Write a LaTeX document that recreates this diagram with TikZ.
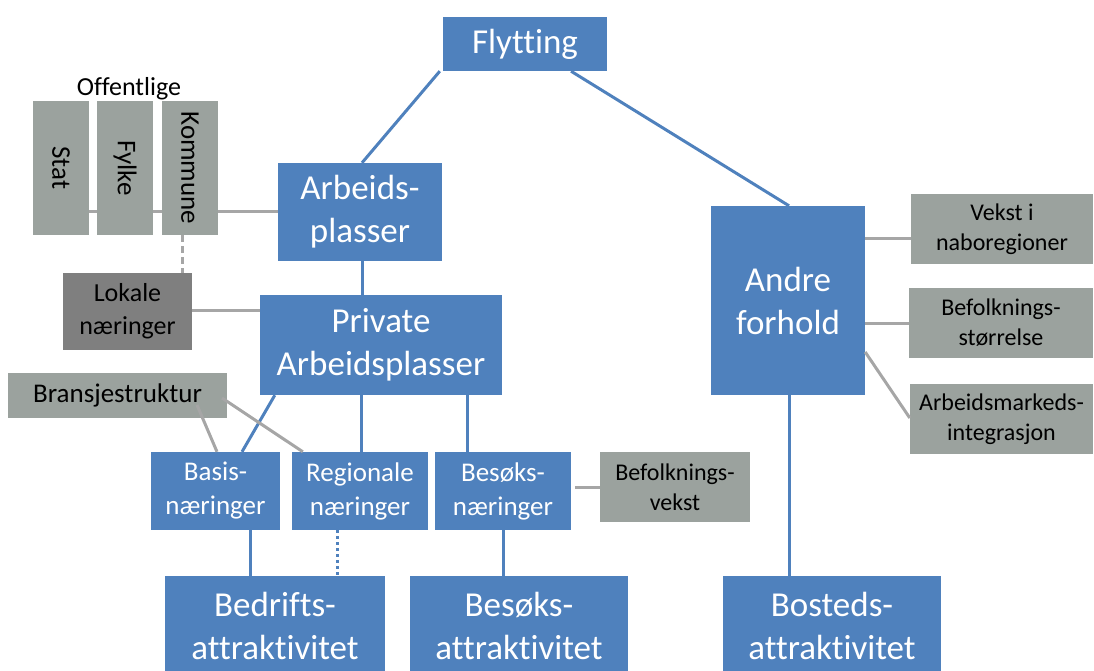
\documentclass[tikz,border=0pt]{standalone}
\usepackage{fontspec}
\setmainfont{Carlito}[RawFeature={-liga}]
\usetikzlibrary{calc,backgrounds}
\definecolor{boxblue}{HTML}{4F81BD}
\definecolor{boxgray}{HTML}{9BA29E}
\definecolor{boxdark}{HTML}{7F7F7F}
\definecolor{linegray}{HTML}{A6A6A6}
\tikzset{
  big/.style={fill=boxblue, text=white, inner sep=0pt, align=center,
    font=\fontsize{35}{43}\selectfont},
  mid/.style={fill=boxblue, text=white, inner sep=0pt, align=center,
    font=\fontsize{27}{34}\selectfont},
  grey/.style={fill=boxgray, text=black, inner sep=0pt, align=center,
    font=\fontsize{24}{30}\selectfont},
  bluelink/.style={draw=boxblue, line width=3pt},
  greylink/.style={draw=linegray, line width=3pt},
}
\begin{document}
\begin{tikzpicture}[x=1pt,y=-1pt]
\useasboundingbox (0,0) rectangle (1094,671);

% main boxes
\node[big, minimum width=164, minimum height=54] (flyt) at (525,44) {Flytting};
\node[big, minimum width=164, minimum height=98] (arb) at (360,212) {Arbeids-\\plasser};
\node[big, minimum width=242, minimum height=100] (priv) at (381,345) {Private\\Arbeidsplasser};
\node[big, minimum width=154, minimum height=189] (andre) at (788,300.5) {Andre\\forhold};

% public sector
\node[font=\fontsize{26}{30}\selectfont] (off) at (129,89) {Offentlige};
\node[grey, minimum width=134, minimum height=56, rotate=-90,
  font=\fontsize{27}{30}\selectfont] (stat) at (61,168) {Stat};
\node[grey, minimum width=134, minimum height=56, rotate=-90,
  font=\fontsize{27}{30}\selectfont] (fylke) at (125,168) {Fylke};
\node[grey, minimum width=134, minimum height=56, rotate=-90,
  font=\fontsize{27}{30}\selectfont] (komm) at (190,168) {Kommune};
\node[grey, fill=boxdark, minimum width=129, minimum height=77,
  font=\fontsize{26}{33}\selectfont] (lok) at (127.5,311.5) {Lokale\\næringer};

% industries
\node[grey, minimum width=219, minimum height=45,
  font=\fontsize{27}{33}\selectfont] (brans) at (117.5,395.5) {Bransjestruktur};
\node[mid, minimum width=129, minimum height=78] (basis) at (215.5,491) {Basis-\\næringer};
\node[mid, minimum width=136, minimum height=78] (reg) at (360,491) {Regionale\\næringer};
\node[mid, minimum width=136, minimum height=78] (besn) at (503,491) {Besøks-\\næringer};
\node[grey, minimum width=150, minimum height=70] (befv) at (675,487) {Befolknings-\\vekst};

% other conditions
\node[grey, minimum width=182, minimum height=70] (vekst) at (1002,229) {Vekst i\\naboregioner};
\node[grey, minimum width=184, minimum height=70] (befs) at (1001,323) {Befolknings-\\størrelse};
\node[grey, minimum width=183, minimum height=70] (arbm) at (1001.5,419) {Arbeidsmarkeds-\\integrasjon};

% attractiveness
\node[big, minimum width=220, minimum height=100, anchor=north] (bedr) at (275,576) {Bedrifts-\\attraktivitet};
\node[big, minimum width=218, minimum height=100, anchor=north] (besa) at (519,576) {Besøks-\\attraktivitet};
\node[big, minimum width=218, minimum height=100, anchor=north] (bost) at (832,576) {Bosteds-\\attraktivitet};

% blue links
\draw[bluelink] ([xshift=-3]flyt.south west) -- ([xshift=2]arb.north);
\draw[bluelink] ($(flyt.south west)!0.78!(flyt.south east)$) -- ([xshift=1]andre.north);
\draw[bluelink] ([xshift=2]arb.south) -- ([xshift=2]arb.south |- priv.north);
\draw[bluelink] ([xshift=15]priv.south west) -- ([xshift=26.5]basis.north);
\draw[bluelink] ([xshift=1]reg.north) -- ([xshift=1]reg.north |- priv.south);
\draw[bluelink] ([xshift=-36]besn.north) -- ([xshift=-36]besn.north |- priv.south);
\coordinate (andreinner) at (789,362);
\draw[bluelink] (andreinner) -- (andreinner |- bost.north);
\draw[bluelink] ([xshift=34.5]basis.south) -- ([xshift=34.5]basis.south |- bedr.north);
\draw[bluelink, dash pattern=on 3pt off 3pt] ([xshift=-23]reg.south) -- ([xshift=-23]reg.south |- bedr.north);
\draw[bluelink] (besn.south) -- (besn.south |- besa.north);

% grey links
\begin{pgfonlayer}{background}
\draw[greylink] ([yshift=-43]stat.north) -- ([yshift=-43]stat.north -| arb.west);
\end{pgfonlayer}
\draw[greylink, dash pattern=on 7pt off 4pt] ([xshift=-8]komm.east) -- ([xshift=-8]komm.east |- lok.north);
\draw[greylink] ([yshift=1.5]lok.east) -- ([yshift=1.5]lok.east -| priv.west);
\draw[greylink] (197,405) -- ([xshift=1.5]basis.north);
\draw[greylink] (222,398) -- ([xshift=11]reg.north west);
\draw[greylink] ([xshift=-25]befv.west) -- (befv.west);
\draw[greylink] ([yshift=62.5]andre.east) -- ([yshift=62.5]andre.east -| vekst.west);
\draw[greylink] ([yshift=-22.5]andre.east) -- ([yshift=-22.5]andre.east -| befs.west);
\draw[greylink] ([yshift=-51.5]andre.east) -- ([yshift=1]arbm.west);
\end{tikzpicture}
\end{document}
